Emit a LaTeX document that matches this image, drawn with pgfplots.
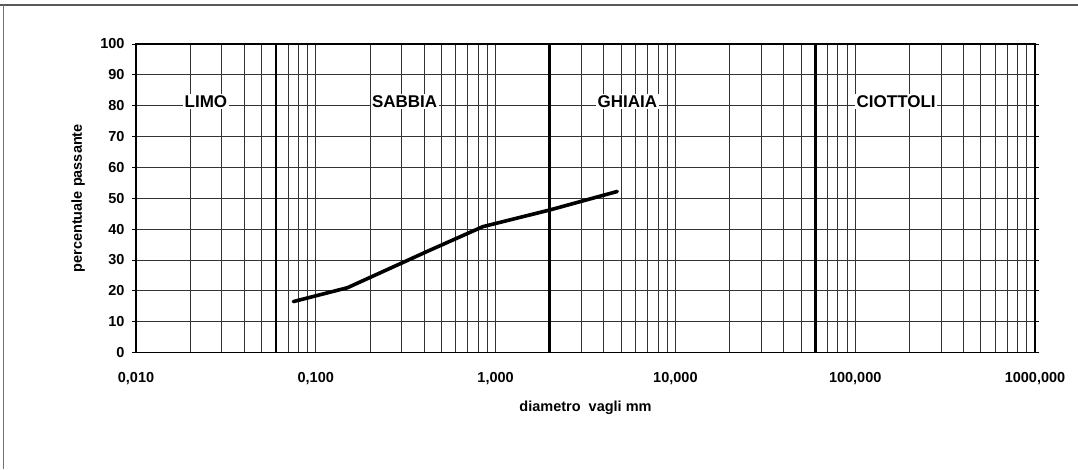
\documentclass[border=0pt]{standalone}
\usepackage{pgfplots}
\pgfplotsset{compat=1.18}
\usepackage{fontspec}
\setmainfont{Liberation Sans}
\begin{document}
\begin{tikzpicture}[x=1pt,y=1pt]
\path[use as bounding box] (0,0) rectangle (1078,-469);
\draw[line width=1.2pt, black!65] (0,-5) -- (1078,-5);
\draw[line width=1pt, black!55] (3,-5) -- (3,-469);
\begin{axis}[
  at={(136pt,-352.5pt)}, anchor=south west,
  width=899pt, height=308.5pt, scale only axis,
  xmode=log, xmin=0.01, xmax=1000, ymin=0, ymax=100,
  xtick={0.01,0.1,1,10,100,1000},
  xticklabels={{0,010},{0,100},{1,000},{10,000},{100,000},{1000,000}},
  minor xtick={0.02,0.03,0.04,0.05,0.06,0.07,0.08,0.09,
               0.2,0.3,0.4,0.5,0.6,0.7,0.8,0.9,
               2,3,4,5,6,7,8,9,
               20,30,40,50,60,70,80,90,
               200,300,400,500,600,700,800,900},
  ytick={0,10,20,30,40,50,60,70,80,90,100},
  yticklabels={0,10,20,30,40,50,60,70,80,90,100},
  xmajorgrids=true, xminorgrids=true, ymajorgrids=true,
  major grid style={black!80, line width=0.8pt},
  minor grid style={black!80, line width=0.8pt},
  axis line style={line width=1.5pt},
  tick align=outside,
  xtick style={draw=none},
  ytick style={black, line width=0.8pt},
  major tick length=4pt, minor tick length=0pt,
  ticklabel style={font=\bfseries\fontsize{14.5}{17}\selectfont},
  xticklabel style={yshift=-12pt},
  yticklabel style={xshift=-4pt},
  xlabel={diametro~~vagli mm},
  ylabel={percentuale passante},
  every axis x label/.style={at={(axis description cs:0.5,-0.18)}, anchor=center,
     font=\bfseries\fontsize{14.5}{17}\selectfont},
  every axis y label/.style={at={(axis description cs:-0.0645,0.5)}, rotate=90, anchor=center,
     font=\bfseries\fontsize{14.5}{17}\selectfont},
]
\addplot[line width=2.8pt, black] coordinates {(0.06,0) (0.06,100)};
\addplot[line width=2.8pt, black] coordinates {(2,0) (2,100)};
\addplot[line width=2.8pt, black] coordinates {(60,0) (60,100)};
\addplot[line width=3.6pt, black, line join=round, line cap=round] coordinates {
  (0.075,16.5) (0.15,21) (0.425,33) (0.85,40.8) (2,46.2) (4.75,52.2)};
\node[fill=white, inner sep=1.5pt, font=\bfseries\fontsize{17}{20}\selectfont] at (axis cs:0.0245,81.3) {LIMO};
\node[fill=white, inner sep=1.5pt, font=\bfseries\fontsize{17}{20}\selectfont] at (axis cs:0.312,81.3) {SABBIA};
\node[fill=white, inner sep=1.5pt, font=\bfseries\fontsize{17}{20}\selectfont] at (axis cs:5.41,81.3) {GHIAIA};
\node[fill=white, inner sep=1.5pt, font=\bfseries\fontsize{17}{20}\selectfont] at (axis cs:169,81.3) {CIOTTOLI};
\end{axis}
\end{tikzpicture}
\end{document}
